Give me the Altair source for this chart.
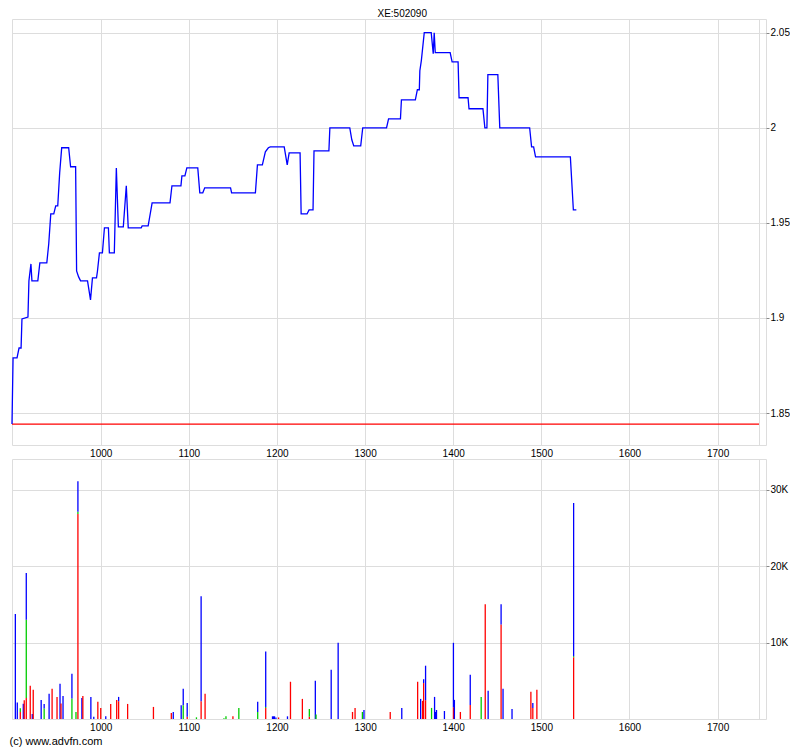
import altair as alt
import pandas as pd

# ---------------- data ----------------
price_x = [899.3, 900.5, 905.0, 907.3, 909.6, 910.6, 917.4, 918.5, 920.8, 921.9,
           928.6, 930.9, 938.8, 941.0, 943.3, 946.7, 948.9, 951.2, 953.4, 955.7,
           963.6, 965.8, 971.5, 972.6, 974.9, 977.1, 985.0, 988.4, 990.6, 995.2,
           996.3, 998.5, 1001.9, 1004.2, 1008.7, 1009.8, 1015.4, 1017.7, 1020.0, 1025.6,
           1029.0, 1031.2, 1045.9, 1047.0, 1053.8, 1058.3, 1078.6, 1080.8, 1091.0, 1092.1,
           1095.5, 1097.7, 1110.1, 1112.4, 1115.8, 1118.0, 1147.3, 1148.5, 1175.5, 1177.8,
           1183.4, 1186.8, 1190.2, 1192.4, 1208.2, 1211.6, 1213.8, 1226.2, 1227.4, 1234.1,
           1236.4, 1240.9, 1242.0, 1258.9, 1260.0, 1282.6, 1284.9, 1287.1, 1295.0, 1297.3,
           1324.3, 1326.6, 1340.1, 1341.2, 1357.0, 1359.3, 1361.5, 1362.1, 1363.8, 1367.1,
           1375.0, 1377.3, 1378.4, 1379.6, 1396.5, 1398.7, 1405.5, 1406.6, 1416.8, 1417.9,
           1433.7, 1435.9, 1438.2, 1439.3, 1450.6, 1452.8, 1486.7, 1488.9, 1491.2, 1493.4,
           1532.9, 1536.3, 1539.7]
price_y = [1.8442, 1.879, 1.879, 1.8842, 1.8842, 1.8995, 1.9005, 1.9195, 1.9284, 1.9195,
           1.9195, 1.929, 1.929, 1.939, 1.9547, 1.9547, 1.9589, 1.9589, 1.9763, 1.9895,
           1.9895, 1.9795, 1.9795, 1.9247, 1.9216, 1.9195, 1.9195, 1.9095, 1.9211, 1.9211,
           1.9247, 1.9342, 1.9342, 1.9474, 1.9474, 1.9342, 1.9342, 1.9789, 1.9479, 1.9479,
           1.9695, 1.9474, 1.9474, 1.9484, 1.9484, 1.9605, 1.9605, 1.9695, 1.9695, 1.9747,
           1.9747, 1.9789, 1.9789, 1.9658, 1.9658, 1.9684, 1.9684, 1.9658, 1.9658, 1.9805,
           1.9805, 1.9874, 1.9895, 1.99, 1.99, 1.9805, 1.9868, 1.9868, 1.9547, 1.9547,
           1.9568, 1.9568, 1.9879, 1.9879, 2.0, 2.0, 1.9937, 1.9905, 1.9905, 2.0,
           2.0, 2.0047, 2.0047, 2.0147, 2.0147, 2.02, 2.02, 2.03, 2.0353, 2.05,
           2.05, 2.0389, 2.05, 2.0395, 2.0395, 2.0347, 2.0347, 2.0158, 2.0158, 2.01,
           2.01, 2.0, 2.0, 2.0279, 2.0279, 2.0, 2.0, 1.99, 1.99, 1.9847,
           1.9847, 1.9568, 1.9568]

ref_price = 1.8442
ref_x = [899.3, 1747.0]

vol_x = [903.1, 905.3, 908.7, 912.1, 913.2, 915.5, 920.0, 922.3, 923.4, 932.4,
         935.8, 941.4, 944.8, 950.4, 953.8, 954.9, 957.2, 967.3, 971.9, 974.1,
         978.6, 979.7, 988.8, 992.1, 996.7, 1000.0, 1005.7, 1011.3, 1018.1, 1020.3,
         1030.5, 1059.8, 1080.1, 1082.3, 1091.3, 1093.6, 1098.1, 1108.6, 1113.9, 1118.4,
         1139.8, 1142.1, 1150.0, 1156.7, 1178.1, 1187.2, 1194.9, 1196.1, 1197.2, 1198.8,
         1201.8, 1211.9, 1215.3, 1228.8, 1236.7, 1243.5, 1244.3, 1261.5, 1269.4, 1285.7,
         1288.6, 1296.9, 1298.7, 1328.5, 1341.6, 1359.6, 1363.0, 1365.2, 1366.4, 1368.6,
         1375.4, 1378.8, 1379.9, 1381.0, 1390.0, 1400.2, 1401.3, 1408.1, 1419.3, 1431.7,
         1436.3, 1439.6, 1454.3, 1456.5, 1466.7, 1488.1, 1490.3, 1494.9, 1536.6]
vol_red = [0, 0, 900, 0, 2450, 2760, 4340, 0, 3820, 0,
           0, 0, 3950, 2890, 0, 2020, 0, 0, 0, 26800,
           0, 3020, 0, 0, 2240, 1450, 0, 1970, 2500, 2330,
           1970, 1580, 790, 0, 0, 0, 300, 0, 2330, 3290,
           0, 0, 350, 0, 0, 1450, 0, 0, 0, 0,
           200, 0, 4870, 2630, 300, 0, 0, 0, 0, 920,
           1450, 0, 0, 920, 0, 4870, 0, 2370, 4700, 2460,
           0, 0, 0, 0, 0, 1540, 0, 920, 1840, 0,
           15000, 0, 12370, 0, 0, 3550, 1450, 3820, 8070]
vol_green = [0, 0, 500, 0, 0, 10230, 0, 0, 0, 0,
             1360, 0, 0, 0, 0, 0, 0, 2680, 920, 300,
             0, 0, 0, 0, 0, 0, 0, 0, 0, 0,
             0, 0, 0, 0, 0, 1800, 0, 220, 0, 0,
             90, 350, 0, 1450, 920, 130, 0, 0, 0, 0,
             0, 0, 0, 0, 1000, 0, 600, 0, 0, 0,
             0, 920, 0, 0, 0, 0, 0, 0, 0, 0,
             1450, 0, 0, 0, 0, 0, 0, 0, 0, 2890,
             0, 0, 0, 0, 0, 0, 0, 0, 150]
vol_blue = [13720, 2150, 0, 2000, 0, 6090, 0, 660, 0, 2500,
            610, 3290, 0, 0, 4600, 0, 3020, 3240, 0, 4000,
            2760, 0, 2890, 300, 0, 0, 350, 0, 0, 560,
            0, 0, 0, 920, 1800, 2150, 1800, 0, 13720, 0,
            0, 0, 0, 0, 1320, 7240, 350, 350, 350, 200,
            0, 350, 0, 0, 0, 5000, 0, 6450, 9960, 0,
            0, 0, 1180, 0, 1450, 0, 2630, 0, 500, 4510,
            0, 2890, 920, 1180, 1050, 8420, 2500, 0, 3950, 0,
            0, 3680, 2630, 3950, 1320, 0, 650, 0, 20030]

x_ticks = [1000, 1100, 1200, 1300, 1400, 1500, 1600, 1700, 1747]
price_ticks = [1.85, 1.9, 1.95, 2.0, 2.05]
vol_ticks = [10000, 20000, 30000]

# ---------------- tables ----------------
price_df = pd.DataFrame({"x": price_x, "price": price_y})
ref_df = pd.DataFrame({"x": [ref_x[0]], "x2": [ref_x[1]], "price": [ref_price]})

rows = []
for x, r, g, b in zip(vol_x, vol_red, vol_green, vol_blue):
    base = 0
    for name, v in (("red", r), ("green", g), ("blue", b)):
        if v > 0:
            rows.append({"x": x, "y0": base, "y1": base + v, "part": name})
            base += v
vol_df = pd.DataFrame(rows)

X_DOMAIN = [899.3, 1754.9]
FONT = "Liberation Sans"
GRID = "#9fabab"
W = 754

x_axis_top = alt.Axis(values=x_ticks, format="d",
                      labelExpr="datum.value > 1740 ? '' : datum.label",
                      ticks=False, labelPadding=3, grid=True, title=None, domain=False)
x_scale = alt.Scale(domain=X_DOMAIN, nice=False, zero=False)

price_line = alt.Chart(price_df).mark_line(color="#0000ff", strokeWidth=1.3, interpolate="linear").encode(
    x=alt.X("x:Q", scale=x_scale, axis=x_axis_top),
    y=alt.Y("price:Q", scale=alt.Scale(domain=[1.8332, 2.0572], nice=False, zero=False),
            axis=alt.Axis(orient="right", values=price_ticks, format="~g", title=None,
                          tickSize=3, labelPadding=1, grid=True, domain=False)),
)
ref_line = alt.Chart(ref_df).mark_rule(color="#ff0000", strokeWidth=1.3).encode(
    x="x:Q", x2="x2:Q", y="price:Q"
)
top = alt.layer(ref_line, price_line).properties(width=W, height=426)

x_axis_bot = alt.Axis(values=x_ticks, format="d",
                      labelExpr="datum.value > 1740 ? '' : datum.label",
                      ticks=False, labelPadding=3, grid=True, domain=False,
                      title="(c) www.advfn.com", titleAnchor="start", titleAlign="left",
                      titleX=-3, titleY=22, titleBaseline="middle", titleFontSize=11,
                      titleFontWeight="normal", titleFont=FONT, titleColor="black")

bottom = alt.Chart(vol_df).mark_rule(strokeWidth=1.3).encode(
    x=alt.X("x:Q", scale=x_scale, axis=x_axis_bot),
    y=alt.Y("y0:Q", scale=alt.Scale(domain=[0, 34000], nice=False),
            axis=alt.Axis(orient="right", values=vol_ticks,
                          labelExpr="datum.value / 1000 + 'K'", title=None,
                          tickSize=3, labelPadding=1, grid=True, domain=False)),
    y2="y1:Q",
    color=alt.Color("part:N", scale=alt.Scale(domain=["red", "green", "blue"],
                                              range=["#ff0000", "#00cc00", "#0000ff"]),
                    legend=None),
).properties(width=W, height=260)

chart = alt.vconcat(top, bottom, spacing=14, bounds="flush").properties(
    title=alt.TitleParams("XE:502090", anchor="middle", fontSize=10, fontWeight="normal",
                          font=FONT, color="black", offset=0, dx=3),
    padding={"left": 0, "top": 0, "right": 0, "bottom": 0},
).configure_view(
    stroke="black", strokeWidth=1
).configure_axis(
    labelFont=FONT, labelFontSize=10, labelColor="black",
    gridColor=GRID, gridDash=[2, 1], gridWidth=1, tickColor="black",
).configure(background="white")

chart.save("out.html", embed_options={"renderer": "svg", "actions": False})
